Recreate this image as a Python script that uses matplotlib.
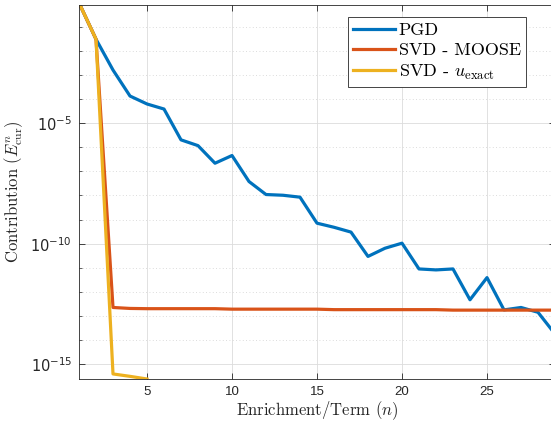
import numpy as np
import matplotlib
matplotlib.use("Agg")
import matplotlib.pyplot as plt
from matplotlib.font_manager import FontProperties

plt.rcParams['mathtext.fontset'] = 'cm'
plt.rcParams['axes.formatter.use_mathtext'] = True

# log10 of the contribution
n_pgd = np.arange(1, 30)
log_pgd = [0.0, -1.51, -2.79, -3.87, -4.20, -4.41, -5.69, -5.93, -6.66, -6.34,
           -7.42, -7.96, -7.99, -8.07, -9.15, -9.32, -9.52, -10.53, -10.19, -9.98,
           -11.05, -11.09, -11.05, -12.33, -11.41, -12.75, -12.65, -12.85, -13.75]

n_moose = np.arange(1, 30)
log_moose = [0.0, -1.51, -12.65, -12.69, -12.70, -12.70, -12.70, -12.70, -12.70, -12.72,
             -12.72, -12.72, -12.72, -12.72, -12.72, -12.74, -12.74, -12.74, -12.74, -12.74,
             -12.74, -12.74, -12.76, -12.76, -12.76, -12.76, -12.76, -12.76, -12.76]

n_exact = np.arange(1, 6)
log_exact = [0.0, -1.51, -15.41, -15.51, -15.62]

labels = ['PGD', 'SVD - MOOSE', r'SVD - $u_{\mathrm{exact}}$']
colors = ['#0072BD', '#D95319', '#EDB120']

fig = plt.figure(figsize=(5.51, 4.29), dpi=100)
ax = fig.add_axes([79/551, 1 - 379/429, 476/551, 374/429])

ax.semilogy(n_pgd, 10.0**np.array(log_pgd), color=colors[0], lw=2.3, label=labels[0])
ax.semilogy(n_moose, 10.0**np.array(log_moose), color=colors[1], lw=2.3, label=labels[1])
ax.semilogy(n_exact, 10.0**np.array(log_exact), color=colors[2], lw=2.3, label=labels[2])

ax.set_xlim(1, 29)
ax.set_ylim(10**-15.62, 10**-0.09)

ax.set_xticks([5, 10, 15, 20, 25])
ax.set_xticklabels(['5', '10', '15', '20', '25'], family='Liberation Sans', fontsize=9.5,
                   color='#262626')
yt = [1e-15, 1e-10, 1e-5]
ax.set_yticks(yt)
ax.set_yticklabels([r'$\mathsf{10^{-15}}$', r'$\mathsf{10^{-10}}$', r'$\mathsf{10^{-5}}$'],
                   math_fontfamily='dejavusans', fontsize=10.5, color='#262626')
ax.set_yticks([10.0**k for k in range(-15, 0) if k % 5 != 0], minor=True)
ax.yaxis.set_minor_formatter(matplotlib.ticker.NullFormatter())
ax.xaxis.set_minor_locator(matplotlib.ticker.NullLocator())

ax.tick_params(which='both', direction='in', top=True, right=True, color='#262626')
ax.tick_params(which='major', length=4.5, width=0.6, pad=5)
ax.tick_params(which='minor', length=2.5, width=0.5)

ax.grid(True, which='major', color='#dcdcdc', lw=0.6)
ax.grid(True, which='minor', axis='y', color='#d0d0d0', lw=0.6, ls=(0, (1, 3)))
for s in ax.spines.values():
    s.set_color('#262626')
    s.set_linewidth(0.6)

ax.set_xlabel(r'Enrichment/Term ($n$)', family='cmr10', fontsize=12, color='#262626', labelpad=1)
ax.set_ylabel(r'Contribution ($E^{n}_{\mathrm{cur}}$)', family='cmr10', fontsize=12,
              color='#262626', labelpad=4)

leg = ax.legend(loc='upper left', bbox_to_anchor=((348 - 79) / 476, 1 - 12 / 374),
                prop=FontProperties(family='cmr10', size=13),
                fancybox=False, framealpha=1, edgecolor='#262626',
                handlelength=2.3, handletextpad=0.2, borderpad=0.3, labelspacing=0.25,
                borderaxespad=0)
leg.get_frame().set_linewidth(0.6)

fig.savefig('out.png', dpi=100)
